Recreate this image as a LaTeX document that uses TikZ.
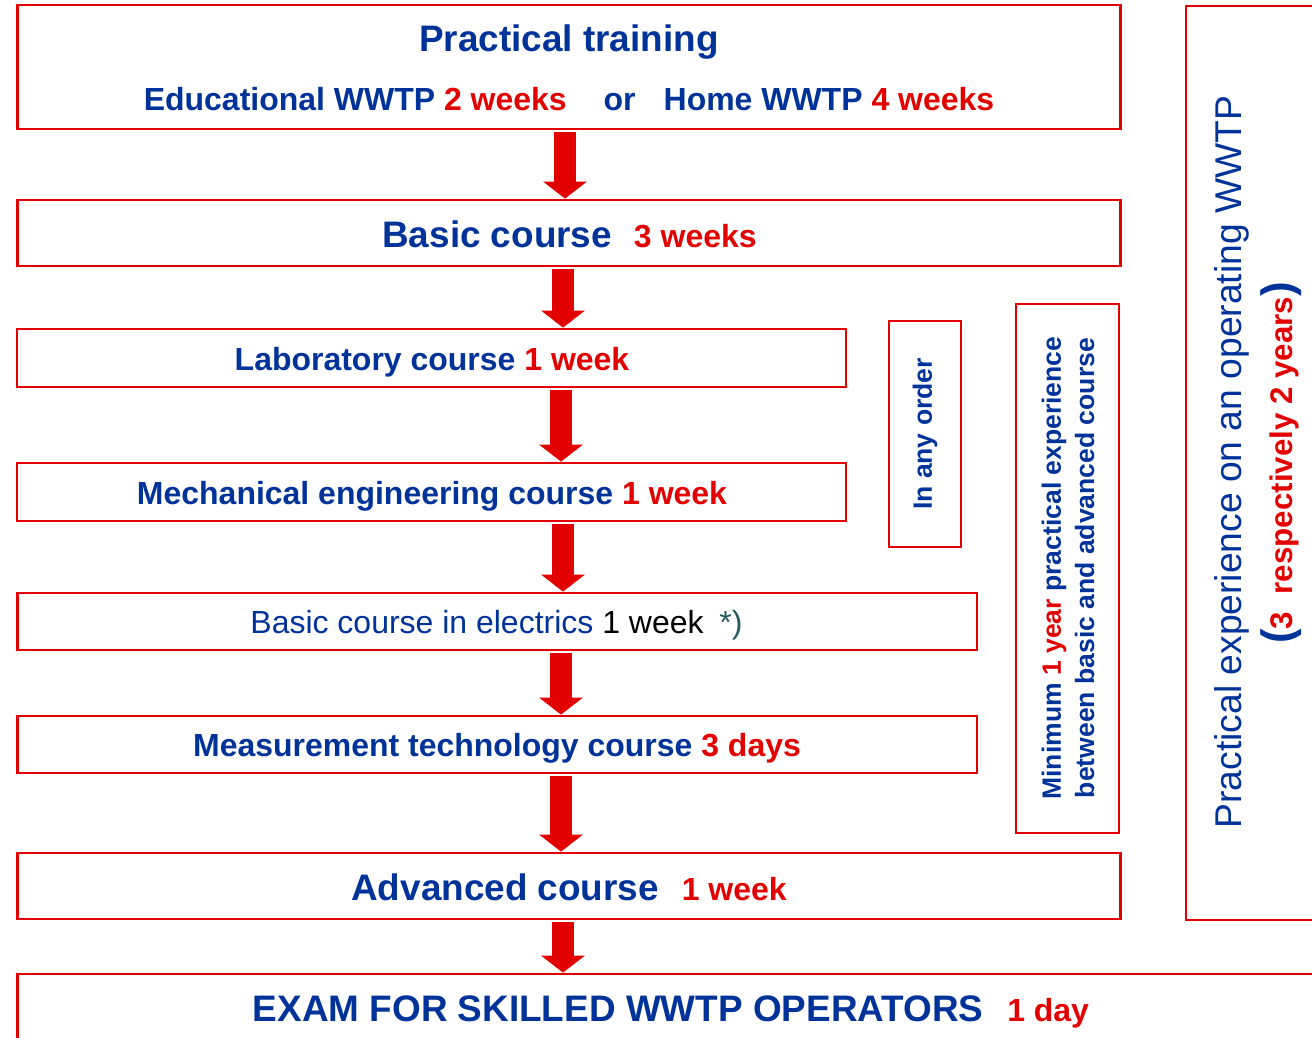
\documentclass[tikz,border=0pt]{standalone}
\usepackage{fontspec}
\setmainfont{Liberation Sans}
\usetikzlibrary{arrows.meta}
\definecolor{ored}{RGB}{226,0,0}
\definecolor{oblue}{RGB}{0,51,153}
\definecolor{oteal}{RGB}{40,90,100}
\newcommand{\redtxt}[1]{\textcolor{ored}{#1}}
\newcommand{\midsize}{\fontsize{18.2}{22}\selectfont}
\begin{document}
\begin{tikzpicture}[x=0.02cm,y=-0.02cm,
  box/.style={draw=ored, line width=1.6pt, rectangle, inner sep=0pt},
  big/.style={font=\fontsize{21}{25}\selectfont\bfseries, text=oblue, inner sep=0pt},
  mid/.style={font=\midsize\bfseries, text=oblue, inner sep=0pt},
  side/.style={font=\fontsize{15.1}{18.8}\selectfont\bfseries, text=oblue, inner sep=0pt, rotate=90, align=center},
  flow/.style={draw=ored, line width=13pt, shorten <=1pt,
    -{Triangle[width=25pt,length=9.7pt,line width=0pt]}},
]
\useasboundingbox (0,0) rectangle (1312,1038);
\clip (0,0) rectangle (1312,1038);
\fill[white] (0,0) rectangle (1312,1038);

% main course boxes
\node[box, minimum width=22.08cm, minimum height=2.48cm] (train) at (569,67) {};
\node[box, minimum width=22.08cm, minimum height=1.32cm] (basic) at (569,233) {};
\node[box, minimum width=16.58cm, minimum height=1.16cm] (lab) at (431.5,358) {};
\node[box, minimum width=16.58cm, minimum height=1.16cm] (mech) at (431.5,492) {};
\node[box, minimum width=19.2cm, minimum height=1.14cm] (elec) at (497,621.5) {};
\node[box, minimum width=19.2cm, minimum height=1.14cm] (meas) at (497,744.5) {};
\node[box, minimum width=22.08cm, minimum height=1.32cm] (adv) at (569,886) {};
\node[box, minimum width=27.66cm, minimum height=2.52cm] (exam) at (708.5,1037) {};

% side boxes
\node[box, minimum width=1.44cm, minimum height=4.52cm] (order) at (925,434) {};
\node[box, minimum width=2.06cm, minimum height=10.58cm] (minexp) at (1067.5,568.5) {};
\node[box, minimum width=4.28cm, minimum height=18.28cm] (opexp) at (1293,463) {};

% texts of the course boxes
\node[big, anchor=base] (trainT) at (569,51) {Practical training};
\node[mid, anchor=base] (trainS) at (569,110) {Educational WWTP \redtxt{2 weeks}\hspace{21pt}or\hspace{16pt}Home WWTP \redtxt{4 weeks}};
\node[big, anchor=base] (basicT) at (569.5,247) {Basic course\hspace{12.5pt}\redtxt{\midsize 3 weeks}};
\node[mid, anchor=base] (labT) at (432,370) {Laboratory course \redtxt{1 week}};
\node[mid, anchor=base] (mechT) at (432,504) {Mechanical engineering course \redtxt{1 week}};
\node[mid, anchor=base, font=\midsize] (elecT) at (496.5,633) {Basic course in electrics \textcolor{black}{1 week}\hspace{9pt}\textcolor{oteal}{*)}};
\node[mid, anchor=base] (measT) at (497,756) {Measurement technology course \redtxt{3 days}};
\node[big, anchor=base] (advT) at (569,900) {Advanced course\hspace{13pt}\redtxt{\midsize 1 week}};
\node[big, anchor=base] (examT) at (671,1021) {EXAM FOR SKILLED WWTP OPERATORS\hspace{13.6pt}\redtxt{\midsize 1 day}};

% texts of the side boxes
\node[side] (orderT) at (925,434) {In any order};
\node[side] (minT) at (1068,568) {Minimum \redtxt{1 year} practical experience\\between basic and advanced course};
\node[rotate=90, inner sep=0pt, text=oblue, font=\fontsize{21.2}{25}\selectfont] (opT1) at (1232,462) {Practical experience on an operating WWTP};
\node[rotate=90, inner sep=0pt, text=oblue, font=\bfseries] (opT2) at (1281,463)
  {{\fontsize{25}{29}\selectfont(}\redtxt{\fontsize{17.8}{21}\selectfont 3\hspace{10pt}respectively 2 years}{\fontsize{25}{29}\selectfont)}};

% flow arrows
\coordinate (ax1) at (565,0);
\coordinate (ax2) at (563,0);
\coordinate (ax3) at (561,0);
\draw[flow] (train.south -| ax1) -- (basic.north -| ax1);
\draw[flow] (basic.south -| ax2) -- (lab.north -| ax2);
\draw[flow] (lab.south -| ax3) -- (mech.north -| ax3);
\draw[flow] (mech.south -| ax2) -- (elec.north -| ax2);
\draw[flow] (elec.south -| ax3) -- (meas.north -| ax3);
\draw[flow] (meas.south -| ax3) -- (adv.north -| ax3);
\draw[flow] (adv.south -| ax2) -- (exam.north -| ax2);
\end{tikzpicture}
\end{document}
